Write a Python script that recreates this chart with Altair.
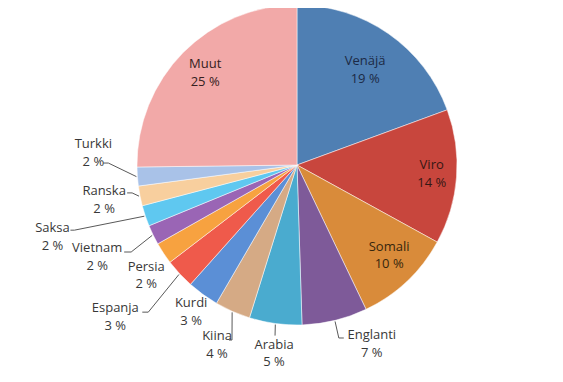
import math
import altair as alt
import pandas as pd

# ---- data ----
languages = ["Venäjä", "Viro", "Somali", "Englanti", "Arabia", "Kiina", "Kurdi",
             "Espanja", "Persia", "Vietnam", "Saksa", "Ranska", "Turkki", "Muut"]
shares = [19.4, 13.6, 9.9, 6.6, 5.3, 3.6, 3.2, 3.0, 2.2, 2.0, 2.1, 2.0, 1.9, 25.2]
labels_pct = ["19 %", "14 %", "10 %", "7 %", "5 %", "4 %", "3 %", "3 %", "2 %",
              "2 %", "2 %", "2 %", "2 %", "25 %"]

# ---- styles ----
colors = ["#4f7fb3", "#c8463d", "#d98b3a", "#7e5a99", "#4aabcf", "#d5aa85", "#5b8fd6",
          "#ef5a4b", "#f7a240", "#9a65b5", "#5fc8f0", "#f8cf9e", "#a9c2e8", "#f2a9a8"]
text_colors = ["#1c2a45", "#351714", "#36260d"] + ["#383838"] * 10 + ["#352020"]
# label placement: radius (px) and angular nudge (deg) from slice mid-angle
label_r = [117, 135, 129, 194, 190, 197, 181, 237, 187, 220, 255, 196, 204, 130]
label_nudge = [0.7, -0.5, -2.2, -9.0, -0.8, 0.2, -0.2, 2.9, -2.8, 1.2, 2.1, 0.9, 7.5, 0.4]
# leader: offset of text-side end from label centre, and horizontal elbow length
has_leader = [False, False, False, True, True, True, False, True, False, True, True, True, True, False]
lead_dx = [0, 0, 0, -28, 1, 12, 0, 27, 0, 27, 18, 23, 10, 0]
lead_dy = [0, 0, 0, -6, -18, -5, 0, -5, 0, -5, -7, -7, 10, 0]
lead_elbow = [0, 0, 0, -5, 0, 3, 0, 6, 0, 7, 4, 5, 5, 0]

W, H = 547, 366
CX, CY = 289, 157  # pie centre inside plot area
R = 160
LH = 17.5

df = pd.DataFrame({"lang": languages, "share": shares, "order": range(len(languages)),
                   "color": colors})

total = sum(shares)
cum = 0.0
text_rows, line_rows = [], []
for i, (name, s) in enumerate(zip(languages, shares)):
    mid = (cum + s / 2) / total * 360.0
    cum += s
    a = math.radians(mid + label_nudge[i])
    lx = CX + label_r[i] * math.sin(a)
    ly = CY - label_r[i] * math.cos(a)
    text_rows.append({"lang": name, "txt": name + "\n" + labels_pct[i],
                      "x": lx, "y": ly - LH / 2, "tc": text_colors[i]})
    if has_leader[i]:
        am = math.radians(mid)
        ax = CX + (R + 1) * math.sin(am)
        ay = CY - (R + 1) * math.cos(am)
        c_x = lx + lead_dx[i]
        c_y = ly + lead_dy[i]
        b_x = c_x + lead_elbow[i]
        pts = [(c_x, c_y), (b_x, c_y), (ax, ay)]
        for k, (px, py) in enumerate(pts):
            line_rows.append({"lang": name, "k": k, "x": px, "y": py})

tdf = pd.DataFrame(text_rows)
ldf = pd.DataFrame(line_rows)

pie = alt.Chart(df).mark_arc(outerRadius=R, stroke="white", strokeWidth=0.5).encode(
    theta=alt.Theta("share:Q", stack=True),
    order=alt.Order("order:Q"),
    color=alt.Color("color:N", scale=None),
    x=alt.value(CX),
    y=alt.value(CY),
)

leaders = alt.Chart(ldf).mark_line(color="#595959", strokeWidth=1).encode(
    x=alt.X("x:Q", scale=None),
    y=alt.Y("y:Q", scale=None),
    detail="lang:N",
    order="k:Q",
)

texts = alt.Chart(tdf).mark_text(
    font="Open Sans", fontSize=13, lineBreak="\n", lineHeight=LH,
    align="center", baseline="middle",
).encode(
    x=alt.X("x:Q", scale=None),
    y=alt.Y("y:Q", scale=None),
    text="txt:N",
    color=alt.Color("tc:N", scale=None),
)

chart = alt.layer(pie, leaders, texts).properties(
    width=W, height=H, padding=0, autosize=alt.AutoSizeParams(type="none")
).configure_view(stroke=None)

chart.save("out.html", embed_options={"renderer": "svg", "actions": False})
